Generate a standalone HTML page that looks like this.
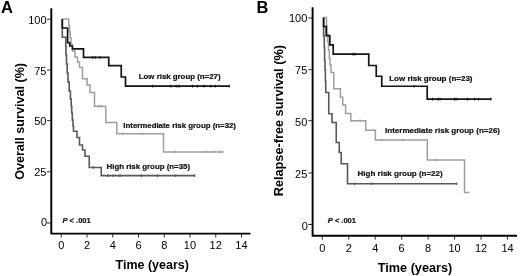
<!DOCTYPE html>
<html><head><meta charset="utf-8"><title>Survival curves</title>
<style>
html,body{margin:0;padding:0;background:#fff;}
body{width:520px;height:276px;overflow:hidden;}
svg{display:block;filter:blur(0.3px);}
text{font-family:"Liberation Sans",sans-serif;fill:#000;}
.tl{font-size:10.5px;}
.ax{font-size:12px;font-weight:bold;letter-spacing:0.2px;}
.pl{font-size:16.5px;font-weight:bold;}
.lg{font-size:7.85px;font-weight:bold;fill:#111;stroke:#111;stroke-width:0.22px;}
.pv{font-size:7.5px;}
</style></head><body>
<svg width="520" height="276" viewBox="0 0 520 276">
<rect width="520" height="276" fill="#fff"/>
<path d="M51.30 8.30V233.60H250.50" fill="none" stroke="#000" stroke-width="1.90" stroke-linejoin="miter"/><path d="M47.00 19.20H51.30M47.00 70.00H51.30M47.00 120.60H51.30M47.00 171.80H51.30M47.00 223.00H51.30M61.25 233.60V237.60M87.00 233.60V237.60M112.75 233.60V237.60M138.50 233.60V237.60M164.25 233.60V237.60M190.00 233.60V237.60M215.75 233.60V237.60M241.50 233.60V237.60" fill="none" stroke="#222" stroke-width="0.95"/>
<text transform="translate(46.5 23.50) scale(1.05 1)" class="tl" text-anchor="end">100</text>
<text transform="translate(46.5 75.00) scale(1.05 1)" class="tl" text-anchor="end">75</text>
<text transform="translate(46.5 125.40) scale(1.05 1)" class="tl" text-anchor="end">50</text>
<text transform="translate(46.5 176.40) scale(1.05 1)" class="tl" text-anchor="end">25</text>
<text transform="translate(47.2 226.30) scale(1.05 1)" class="tl" text-anchor="end">0</text>
<text transform="translate(61.25 249.1) scale(1.05 1)" class="tl" text-anchor="middle">0</text>
<text transform="translate(87.00 249.1) scale(1.05 1)" class="tl" text-anchor="middle">2</text>
<text transform="translate(112.75 249.1) scale(1.05 1)" class="tl" text-anchor="middle">4</text>
<text transform="translate(138.50 249.1) scale(1.05 1)" class="tl" text-anchor="middle">6</text>
<text transform="translate(164.25 249.1) scale(1.05 1)" class="tl" text-anchor="middle">8</text>
<text transform="translate(190.00 249.1) scale(1.05 1)" class="tl" text-anchor="middle">10</text>
<text transform="translate(215.75 249.1) scale(1.05 1)" class="tl" text-anchor="middle">12</text>
<text transform="translate(241.50 249.1) scale(1.05 1)" class="tl" text-anchor="middle">14</text>
<path d="M62.30 19.00 H68.75 V25.40 H69.50 V31.80 H70.20 V38.00 H71.00 V44.50 H72.50 V51.00 H75.00 V57.00 H77.50 V62.00 H79.50 V67.50 H82.50 V78.75 H87.00 V85.00 H90.00 V92.50 H94.50 V106.25 H105.80 V122.50 H116.80 V133.75 H163.50 V151.90 H223.00 V151.90" fill="none" stroke="#9e9e9e" stroke-width="1.50" stroke-linejoin="miter"/>
<path d="M98.70 104.90V107.60 M101.00 104.90V107.60 M122.50 132.40V135.10 M142.00 132.40V135.10 M175.00 150.55V153.25 M205.80 150.55V153.25 M213.90 150.55V153.25 M219.60 150.55V153.25 M222.80 150.55V153.25" fill="none" stroke="#9e9e9e" stroke-width="1.10"/>
<path d="M62.30 19.00 H62.30 V37.30 H65.80 V46.00 H66.00 V55.00 H66.50 V64.00 H67.20 V73.00 H68.00 V82.00 H69.20 V91.00 H70.40 V99.00 H71.20 V106.00 H71.70 V113.00 H72.30 V120.00 H73.00 V126.00 H73.50 V131.25 H77.00 V137.50 H79.50 V145.00 H82.50 V150.00 H85.00 V156.25 H89.25 V167.50 H101.25 V175.60 H195.00 V175.60" fill="none" stroke="#585858" stroke-width="1.60" stroke-linejoin="miter"/>
<path d="M93.30 166.15V168.85 M108.00 174.25V176.95 M113.20 174.25V176.95 M120.00 174.25V176.95 M141.50 174.25V176.95 M157.50 174.25V176.95 M175.00 174.25V176.95 M194.80 174.25V176.95" fill="none" stroke="#585858" stroke-width="1.10"/>
<path d="M62.30 19.00 H62.30 V28.00 H67.60 V35.00 H67.60 V42.60 H69.80 V46.00 H72.40 V48.90 H83.50 V57.30 H108.75 V65.60 H121.25 V77.00 H125.50 V86.20 H229.50 V86.20" fill="none" stroke="#151515" stroke-width="1.70" stroke-linejoin="miter"/>
<path d="M92.50 56.15V58.85 M95.00 56.15V58.85 M100.00 56.15V58.85 M152.70 84.85V87.55 M170.80 84.85V87.55 M176.20 84.85V87.55 M179.00 84.85V87.55 M192.50 84.85V87.55 M197.30 84.85V87.55 M204.00 84.85V87.55 M210.80 84.85V87.55 M215.20 84.85V87.55 M229.20 84.85V87.55" fill="none" stroke="#151515" stroke-width="1.10"/>
<text x="1" y="13.2" class="pl">A</text>
<text transform="translate(152.2 268.6) scale(1.04 1)" class="ax" style="letter-spacing:0" text-anchor="middle">Time (years)</text>
<text transform="translate(24.1 121.4) rotate(-90) scale(1.05 1)" class="ax" style="letter-spacing:0" text-anchor="middle">Overall survival (%)</text>
<text x="220.5" y="78.5" class="lg" text-anchor="end">Low risk group (n=27)</text>
<text x="236" y="128.2" class="lg" text-anchor="end">Intermediate risk group (n=32)</text>
<text x="190" y="169.3" class="lg" text-anchor="end">High risk group (n=35)</text>
<text x="62.5" y="222.7" class="lg pv"><tspan font-style="italic">P</tspan> &lt; .001</text>
<path d="M312.60 7.20V235.70H517.00" fill="none" stroke="#000" stroke-width="1.90" stroke-linejoin="miter"/><path d="M308.30 18.00H312.60M308.30 69.70H312.60M308.30 120.70H312.60M308.30 173.00H312.60M308.30 224.50H312.60M322.30 235.70V239.70M348.76 235.70V239.70M375.22 235.70V239.70M401.68 235.70V239.70M428.14 235.70V239.70M454.60 235.70V239.70M481.06 235.70V239.70M507.52 235.70V239.70" fill="none" stroke="#222" stroke-width="0.95"/>
<text transform="translate(307.3 22.40) scale(1.05 1)" class="tl" text-anchor="end">100</text>
<text transform="translate(307.3 74.20) scale(1.05 1)" class="tl" text-anchor="end">75</text>
<text transform="translate(307.3 125.60) scale(1.05 1)" class="tl" text-anchor="end">50</text>
<text transform="translate(307.3 177.80) scale(1.05 1)" class="tl" text-anchor="end">25</text>
<text transform="translate(308.0 229.50) scale(1.05 1)" class="tl" text-anchor="end">0</text>
<text transform="translate(322.30 252.2) scale(1.05 1)" class="tl" text-anchor="middle">0</text>
<text transform="translate(348.76 252.2) scale(1.05 1)" class="tl" text-anchor="middle">2</text>
<text transform="translate(375.22 252.2) scale(1.05 1)" class="tl" text-anchor="middle">4</text>
<text transform="translate(401.68 252.2) scale(1.05 1)" class="tl" text-anchor="middle">6</text>
<text transform="translate(428.14 252.2) scale(1.05 1)" class="tl" text-anchor="middle">8</text>
<text transform="translate(454.60 252.2) scale(1.05 1)" class="tl" text-anchor="middle">10</text>
<text transform="translate(481.06 252.2) scale(1.05 1)" class="tl" text-anchor="middle">12</text>
<text transform="translate(507.52 252.2) scale(1.05 1)" class="tl" text-anchor="middle">14</text>
<path d="M323.60 17.60 H326.50 V26.00 H327.00 V34.00 H327.80 V42.00 H328.50 V50.00 H329.30 V58.00 H330.00 V65.00 H331.00 V72.50 H333.75 V88.75 H340.40 V97.20 H342.70 V105.00 H345.60 V113.60 H350.80 V120.80 H365.80 V130.30 H375.40 V139.90 H427.30 V160.00 H464.50 V192.50 H469.50 V192.50" fill="none" stroke="#9e9e9e" stroke-width="1.50" stroke-linejoin="miter"/>
<path d="M360.00 119.45V122.15 M381.80 138.55V141.25 M403.00 138.55V141.25 M435.50 158.65V161.35" fill="none" stroke="#9e9e9e" stroke-width="1.10"/>
<path d="M323.60 17.60 H323.60 V36.00 H324.30 V48.00 H324.60 V60.00 H325.00 V70.00 H325.40 V81.00 H325.75 V92.50 H328.75 V113.75 H332.00 V122.50 H336.25 V142.50 H339.25 V152.50 H341.25 V163.75 H347.50 V183.75 H457.00 V183.75" fill="none" stroke="#585858" stroke-width="1.60" stroke-linejoin="miter"/>
<path d="M354.50 182.40V185.10 M371.70 182.40V185.10 M456.80 182.40V185.10" fill="none" stroke="#585858" stroke-width="1.10"/>
<path d="M323.60 17.60 H323.60 V26.50 H326.20 V35.60 H329.80 V44.80 H333.20 V54.10 H368.75 V65.50 H376.25 V76.25 H381.75 V86.25 H427.20 V99.20 H491.30 V99.20" fill="none" stroke="#151515" stroke-width="1.70" stroke-linejoin="miter"/>
<path d="M353.00 52.75V55.45 M355.00 52.75V55.45 M414.00 84.90V87.60 M432.60 97.85V100.55 M438.20 97.85V100.55 M440.00 97.85V100.55 M454.60 97.85V100.55 M456.20 97.85V100.55 M467.40 97.85V100.55 M474.60 97.85V100.55 M478.50 97.85V100.55 M490.90 97.85V100.55" fill="none" stroke="#151515" stroke-width="1.10"/>
<text x="256.6" y="13.4" class="pl">B</text>
<text transform="translate(415 271.7) scale(1.06 1)" class="ax" style="letter-spacing:0" text-anchor="middle">Time (years)</text>
<text transform="translate(283.3 120.65) rotate(-90) scale(1.06 1)" class="ax" style="letter-spacing:0" text-anchor="middle">Relapse-free survival (%)</text>
<text x="472.5" y="80.9" class="lg" style="font-size:8px" text-anchor="end">Low risk group (n=23)</text>
<text x="500" y="133.2" class="lg" style="font-size:8px" text-anchor="end">Intermediate risk group (n=26)</text>
<text x="442.7" y="176.3" class="lg" style="font-size:8px" text-anchor="end">High risk group (n=22)</text>
<text x="327.8" y="222.5" class="lg pv"><tspan font-style="italic">P</tspan> &lt; .001</text>
</svg>
</body></html>
